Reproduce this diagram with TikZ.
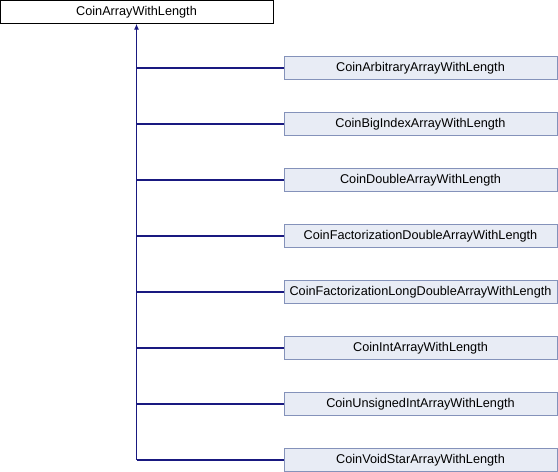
\documentclass[tikz,border=0pt]{standalone}
\usepackage{fontspec}
\setmainfont{Liberation Sans}
\usetikzlibrary{positioning,arrows.meta}
\definecolor{edgeblue}{RGB}{25,25,128}
\definecolor{boxfill}{RGB}{232,236,245}
\definecolor{boxline}{RGB}{132,146,186}
\tikzset{base/.style={draw=black,fill=white,minimum width=273pt,minimum height=23pt,inner sep=0pt,font=\fontsize{12.7}{14}\selectfont}}
\tikzset{derived/.style={draw=boxline,fill=boxfill,minimum width=273pt,minimum height=23pt,inner sep=0pt,font=\fontsize{12.7}{14}\selectfont}}
\tikzset{link/.style={edgeblue,line width=1.2pt}}
\tikzset{inherit/.style={edgeblue,line width=1.2pt,-{Latex[length=6pt,width=5pt]}}}

\begin{document}
\begin{tikzpicture}[x=1pt,y=-1pt]
  \useasboundingbox (0,0) rectangle (558,472);
  \node[base] (arr) at (136.5,12) {CoinArrayWithLength};
        \foreach \name [count=\i] in {CoinArbitraryArrayWithLength,CoinBigIndexArrayWithLength,CoinDoubleArrayWithLength,CoinFactorizationDoubleArrayWithLength,CoinFactorizationLongDoubleArrayWithLength,CoinIntArrayWithLength,CoinUnsignedIntArrayWithLength,CoinVoidStarArrayWithLength}
          \node[derived] (d\i) at (420.5,{12+56*\i}) {\name};
  \coordinate (bottom) at (d8.west -| arr.south);
  \draw[inherit] (bottom) -- (arr.south);
        \foreach \i in {1,...,8}
          \draw[link] (d\i.west) -- (d\i.west -| arr.south);
\end{tikzpicture}
\end{document}
